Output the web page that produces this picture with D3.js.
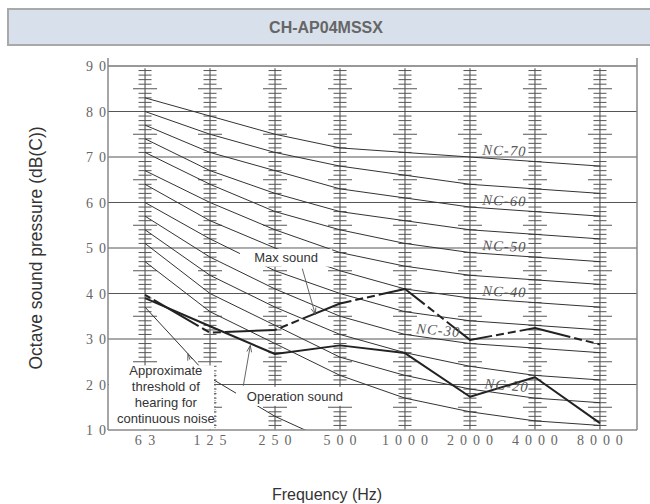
<!DOCTYPE html>
<html>
<head>
<meta charset="utf-8">
<script src="https://cdn.jsdelivr.net/npm/d3@7"></script>
<style>
  body { margin: 0; background: #fff; }
  svg { display: block; }
</style>
</head>
<body>
<svg id="chart" width="650" height="504"></svg>
<script>
// Octave bands and their printed labels
const bands = ["63", "125", "250", "500", "1000", "2000", "4000", "8000"];
const bandLabels = ["6 3", "1 2 5", "2 5 0", "5 0 0", "1 0 0 0", "2 0 0 0", "4 0 0 0", "8 0 0 0"];

// Sound pressure axis
const dbTicks = [10, 20, 30, 40, 50, 60, 70, 80, 90];
const dbTickLabels = ["1 0", "2 0", "3 0", "4 0", "5 0", "6 0", "7 0", "8 0", "9 0"];

// Noise Criterion curves (dB per octave band)
const ncLevels = [15, 20, 25, 30, 35, 40, 45, 50, 55, 60, 65, 70];
const nc15 = [47, 36, 29, 22, 17, 14, 12, 11];
const nc20 = [51, 40, 33, 26, 22, 19, 17, 16];
const nc25 = [54, 44, 37, 31, 27, 24, 22, 21];
const nc30 = [57, 48, 41, 35, 31, 29, 28, 27];
const nc35 = [60, 52, 45, 40, 36, 34, 33, 32];
const nc40 = [64, 56, 50, 45, 41, 39, 38, 37];
const nc45 = [67, 60, 54, 49, 46, 44, 43, 42];
const nc50 = [71, 64, 58, 54, 51, 49, 48, 47];
const nc55 = [74, 67, 62, 58, 56, 54, 53, 52];
const nc60 = [77, 71, 67, 63, 61, 59, 58, 57];
const nc65 = [80, 75, 71, 68, 66, 64, 63, 62];
const nc70 = [83, 79, 75, 72, 71, 70, 69, 68];
const ncCurves = [nc15, nc20, nc25, nc30, nc35, nc40, nc45, nc50, nc55, nc60, nc65, nc70];

// Which NC curves carry a label, and where along the band axis
const ncLabelLevels = [20, 30, 40, 50, 60, 70];
const ncLabelBandPos = [5.55, 4.5, 5.52, 5.52, 5.52, 5.52];

// Measured unit data
const maxSound = [39.7, 31.4, 32.0, 37.8, 41.0, 29.8, 32.4, 28.8];
const operationSound = [39.0, 32.8, 26.7, 28.6, 26.9, 17.3, 21.6, 11.5];

// Approximate threshold of hearing for continuous noise (first four bands)
const hearingThreshold = [37, 21.5, 13, 6.5];

const svg = d3.select("#chart");
const plot = { left: 108, right: 637, top: 66, bottom: 430 };

// band index -> x (uniform spacing per octave)
const x = d3.scaleLinear().domain([-0.57, 7.57]).range([plot.left, plot.right]);
const y = d3.scaleLinear().domain([10, 90]).range([plot.bottom, plot.top]);

const serif = "'Liberation Serif', 'DejaVu Serif', serif";
const sans = "'Liberation Sans', Arial, sans-serif";

// value of a band series at a fractional band position
function interp(series, pos) {
  const i = Math.max(0, Math.min(series.length - 2, Math.floor(pos)));
  const t = pos - i;
  return series[i] + (series[i + 1] - series[i]) * t;
}

// ---- Title bar ----
svg.append("rect")
  .attr("x", 8).attr("y", 9).attr("width", 660).attr("height", 36)
  .attr("fill", "#d8e1eb").attr("stroke", "#a9a9a9").attr("stroke-width", 2);
svg.append("text")
  .attr("x", 326).attr("y", 33)
  .attr("text-anchor", "middle")
  .attr("font-family", sans).attr("font-weight", "bold").attr("font-size", 16)
  .attr("fill", "#666")
  .text("CH-AP04MSSX");

// ---- Clip for plot contents ----
svg.append("defs").append("clipPath").attr("id", "plotClip")
  .append("rect")
  .attr("x", plot.left).attr("y", plot.top)
  .attr("width", plot.right - plot.left).attr("height", plot.bottom - plot.top);

const g = svg.append("g");

// ---- Horizontal grid lines ----
g.selectAll("line.grid")
  .data(dbTicks.filter(d => d > 10 && d < 90))
  .join("line")
  .attr("class", "grid")
  .attr("x1", plot.left).attr("x2", plot.right)
  .attr("y1", d => y(d)).attr("y2", d => y(d))
  .attr("stroke", "#555").attr("stroke-width", 1);

// ---- Per-band dB scales (vertical rule with 1 dB ticks) ----
const minorDb = d3.range(11, 90).filter(v => v % 10 !== 0);
bands.forEach((b, i) => {
  const cx = x(i);
  g.append("line")
    .attr("x1", cx).attr("x2", cx)
    .attr("y1", y(89.5)).attr("y2", y(10))
    .attr("stroke", "#444").attr("stroke-width", 1);
  g.selectAll(null)
    .data(minorDb)
    .join("line")
    .attr("x1", v => cx - (v % 5 === 0 ? 12 : 6.5))
    .attr("x2", v => cx + (v % 5 === 0 ? 12 : 6.5))
    .attr("y1", v => y(v)).attr("y2", v => y(v))
    .attr("stroke", "#555").attr("stroke-width", 1);
});

// ---- NC curves ----
const bandLine = d3.line().x((d, i) => x(i)).y(d => y(d));
const clipped = g.append("g").attr("clip-path", "url(#plotClip)");
clipped.selectAll("path.nc")
  .data(ncCurves)
  .join("path")
  .attr("class", "nc")
  .attr("d", bandLine)
  .attr("fill", "none").attr("stroke", "#333").attr("stroke-width", 1);

// threshold of hearing curve
clipped.append("path")
  .datum(hearingThreshold)
  .attr("d", bandLine)
  .attr("fill", "none").attr("stroke", "#333").attr("stroke-width", 1);

// ---- Plot frame ----
g.append("line").attr("x1", plot.left).attr("x2", plot.right)
  .attr("y1", plot.top).attr("y2", plot.top)
  .attr("stroke", "#333").attr("stroke-width", 1);
g.append("line").attr("x1", plot.left).attr("x2", plot.right)
  .attr("y1", plot.bottom).attr("y2", plot.bottom)
  .attr("stroke", "#888").attr("stroke-width", 1.5);
[plot.left, plot.right].forEach(px => {
  g.append("line").attr("x1", px).attr("x2", px)
    .attr("y1", plot.top - 8).attr("y2", plot.bottom)
    .attr("stroke", "#888").attr("stroke-width", 1.5);
});

// ---- Annotation boxes (white, behind the text) ----
function whiteBox(x0, y0, x1, y1) {
  g.append("rect")
    .attr("x", x0).attr("y", y0)
    .attr("width", x1 - x0).attr("height", y1 - y0)
    .attr("fill", "#fff");
}
// threshold note box spans from the axis to just right of the 125 Hz rule
whiteBox(plot.left + 1, y(24.2), x(1) + 4, plot.bottom - 1);
g.append("line")
  .attr("x1", x(1) + 5).attr("x2", x(1) + 5)
  .attr("y1", y(22.5)).attr("y2", plot.bottom)
  .attr("stroke", "#666").attr("stroke-width", 1)
  .attr("stroke-dasharray", "1,2");

// "Max sound" box
const maxBox = { x0: x(1.46), x1: x(2.88), y0: y(49.8), y1: y(45.9) };
whiteBox(maxBox.x0, maxBox.y0, maxBox.x1, maxBox.y1);
// "Operation sound" box
const opBox = { x0: x(1.4), x1: x(3.12), y0: y(19.5), y1: y(15.3) };
whiteBox(opBox.x0, opBox.y0, opBox.x1, opBox.y1);

// ---- Measured series ----
g.append("path")
  .datum(operationSound)
  .attr("d", bandLine)
  .attr("fill", "none").attr("stroke", "#222").attr("stroke-width", 2)
  .attr("stroke-linejoin", "round");
g.append("path")
  .datum(maxSound)
  .attr("d", bandLine)
  .attr("fill", "none").attr("stroke", "#222").attr("stroke-width", 2)
  .attr("stroke-linejoin", "round")
  .attr("stroke-dasharray", "52,4,8,4,8,4")
  .attr("stroke-dashoffset", -10);

// ---- NC labels ----
ncLabelLevels.forEach((lvl, k) => {
  const curve = ncCurves[ncLevels.indexOf(lvl)];
  const pos = ncLabelBandPos[k];
  const px = x(pos);
  const py = y(interp(curve, pos));
  const i = Math.floor(pos);
  const ang = 0.6 * Math.atan2(y(curve[i + 1]) - y(curve[i]), x(i + 1) - x(i)) * 180 / Math.PI;
  g.append("text")
    .attr("transform", `translate(${px},${py - 4}) rotate(${ang})`)
    .attr("text-anchor", "middle")
    .attr("font-family", serif).attr("font-style", "italic")
    .attr("font-size", 14.5)
    .attr("textLength", 43).attr("lengthAdjust", "spacing")
    .attr("fill", "#555")
    .text("NC-" + lvl);
});

// ---- Axis tick labels ----
g.selectAll("text.ylab")
  .data(dbTicks)
  .join("text")
  .attr("class", "ylab")
  .attr("x", plot.left - 2).attr("y", d => y(d) + 5)
  .attr("text-anchor", "end")
  .attr("font-family", serif).attr("font-size", 14)
  .attr("textLength", 20).attr("lengthAdjust", "spacing")
  .attr("fill", "#666")
  .text((d, i) => dbTickLabels[i]);

g.selectAll("text.xlab")
  .data(bandLabels)
  .join("text")
  .attr("class", "xlab")
  .attr("x", (d, i) => x(i)).attr("y", plot.bottom + 15)
  .attr("text-anchor", "middle")
  .attr("font-family", serif).attr("font-size", 14)
  .attr("textLength", d => d.replace(/ /g, "").length * 12.7 - 5)
  .attr("lengthAdjust", "spacing")
  .attr("fill", "#666")
  .text(d => d);

// ---- Axis titles ----
svg.append("text")
  .attr("transform", `translate(42,${(plot.top + plot.bottom) / 2}) rotate(-90)`)
  .attr("text-anchor", "middle")
  .attr("font-family", sans).attr("font-size", 17.5)
  .attr("fill", "#333")
  .text("Octave sound pressure (dB(C))");
svg.append("text")
  .attr("x", 327).attr("y", 500)
  .attr("text-anchor", "middle")
  .attr("font-family", sans).attr("font-size", 16)
  .attr("fill", "#333")
  .text("Frequency (Hz)");

// ---- Annotation texts and arrows ----
function arrow(x1, y1, x2, y2) {
  g.append("line")
    .attr("x1", x1).attr("y1", y1).attr("x2", x2).attr("y2", y2)
    .attr("stroke", "#555").attr("stroke-width", 0.9);
  const a = Math.atan2(y2 - y1, x2 - x1);
  const len = 7, spread = 0.35;
  [a + Math.PI - spread, a + Math.PI + spread].forEach(b => {
    g.append("line")
      .attr("x1", x2).attr("y1", y2)
      .attr("x2", x2 + len * Math.cos(b)).attr("y2", y2 + len * Math.sin(b))
      .attr("stroke", "#555").attr("stroke-width", 0.9);
  });
}

g.append("text")
  .attr("x", (maxBox.x0 + maxBox.x1) / 2).attr("y", (maxBox.y0 + maxBox.y1) / 2 + 4.5)
  .attr("text-anchor", "middle")
  .attr("font-family", sans).attr("font-size", 13).attr("fill", "#333")
  .text("Max sound");
{
  const pos = 2.62;
  arrow(x(pos) - 13, maxBox.y1 + 2, x(pos), y(interp(maxSound, pos)) + 1);
}

g.append("text")
  .attr("x", (opBox.x0 + opBox.x1) / 2 + 3).attr("y", (opBox.y0 + opBox.y1) / 2 + 4.5)
  .attr("text-anchor", "middle")
  .attr("font-family", sans).attr("font-size", 13).attr("fill", "#333")
  .text("Operation sound");
{
  const pos = 1.62;
  arrow(x(pos) - 7, opBox.y0 - 1, x(pos), y(interp(operationSound, pos)) + 2);
}

const thresholdNote = ["Approximate", "threshold of", "hearing for", "continuous noise"];
g.selectAll("text.note")
  .data(thresholdNote)
  .join("text")
  .attr("class", "note")
  .attr("x", x(0.32)).attr("y", (d, i) => y(22) + i * 16)
  .attr("text-anchor", "middle")
  .attr("font-family", sans).attr("font-size", 13).attr("fill", "#333")
  .text(d => d);
{
  const pos = 0.66;
  arrow(x(pos) + 2, y(interp(hearingThreshold, pos)) + 6, x(pos), y(interp(hearingThreshold, pos)));
}
</script>
</body>
</html>
